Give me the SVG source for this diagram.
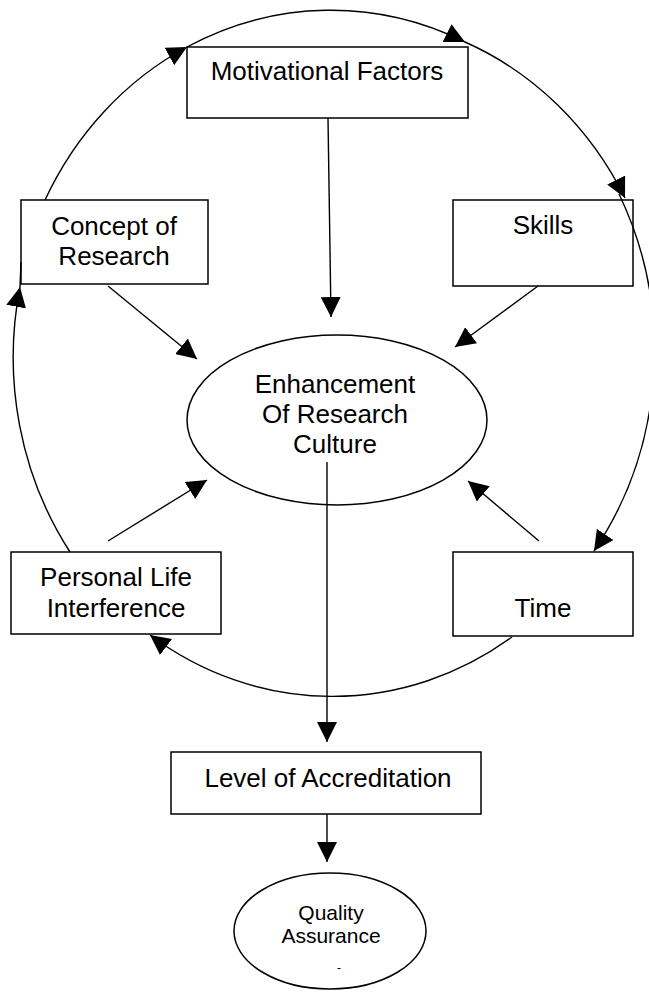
<svg xmlns="http://www.w3.org/2000/svg" width="649" height="994" viewBox="0 0 649 994">
<style>
.box{fill:#fff;stroke:#000;stroke-width:1.5}
.ell{fill:#fff;stroke:#000;stroke-width:1.5}
.t{font-family:"Liberation Sans",Arial,sans-serif;font-size:26px;fill:#000;text-anchor:middle}
.ts{font-family:"Liberation Sans",Arial,sans-serif;font-size:21px;fill:#000;text-anchor:middle}
.c{fill:none;stroke:#000;stroke-width:1.4}
.a{marker-end:url(#ah)}
</style>
<defs>
<marker id="ah" markerUnits="userSpaceOnUse" markerWidth="20" markerHeight="20" viewBox="0 0 20 20" refX="20" refY="10" orient="auto">
<path d="M0,0 L20,10 L0,20 z" fill="#000"/>
</marker>
</defs>
<rect width="649" height="994" fill="#fff"/>
<g id="motivational-factors">
<rect class="box" x="187" y="47" width="281" height="71"/>
<text class="t" x="327" y="80">Motivational Factors</text>
</g>
<g id="concept-of-research">
<rect class="box" x="21" y="200" width="187" height="84"/>
<text class="t" x="114" y="235">Concept of</text>
<text class="t" x="114" y="265">Research</text>
</g>
<g id="skills">
<rect class="box" x="453" y="200" width="180" height="86"/>
<text class="t" x="543" y="234">Skills</text>
</g>
<g id="enhancement">
<ellipse class="ell" cx="337" cy="420" rx="150" ry="85"/>
<text class="t" x="335" y="393">Enhancement</text>
<text class="t" x="335" y="423">Of Research</text>
<text class="t" x="335" y="453">Culture</text>
</g>
<g id="personal-life-interference">
<rect class="box" x="11" y="552" width="210" height="82"/>
<text class="t" x="116" y="586">Personal Life</text>
<text class="t" x="116" y="617">Interference</text>
</g>
<g id="time">
<rect class="box" x="453" y="552" width="180" height="84"/>
<text class="t" x="543" y="617">Time</text>
</g>
<g id="level-of-accreditation">
<rect class="box" x="171" y="752" width="310" height="62"/>
<text class="t" x="328" y="787">Level of Accreditation</text>
</g>
<g id="quality-assurance">
<ellipse class="ell" cx="330" cy="931" rx="96" ry="58"/>
<text class="ts" x="331" y="920">Quality</text>
<text class="ts" x="331" y="943">Assurance</text>
<text class="ts" x="339" y="972" style="font-size:12px">-</text>
</g>
<g id="connectors">
<path class="c a" d="M328,118 L331,317"/>
<path class="c a" d="M108,286 L197,359"/>
<path class="c a" d="M538,286 L455,347"/>
<path class="c a" d="M108,541 L207,480"/>
<path class="c a" d="M539,541 L468,481"/>
<path class="c a" d="M327,462 L327,742"/>
<path class="c a" d="M327,814 L327,862"/>
<path class="c a" d="M45,200 A319,342 0 0 1 187,47"/>
<path class="c a" d="M187,47 A319,342 0 0 1 465,42"/>
<path class="c a" d="M465,42 A319,342 0 0 1 625,198"/>
<path class="c a" d="M619,194 A319,342 0 0 1 594,551"/>
<path class="c a" d="M512,637 A319,342 0 0 1 150,635"/>
<path class="c a" d="M70,552 A319,342 0 0 1 20,287"/>
<path class="c" d="M20,287 L21,262"/>
</g>
</svg>
